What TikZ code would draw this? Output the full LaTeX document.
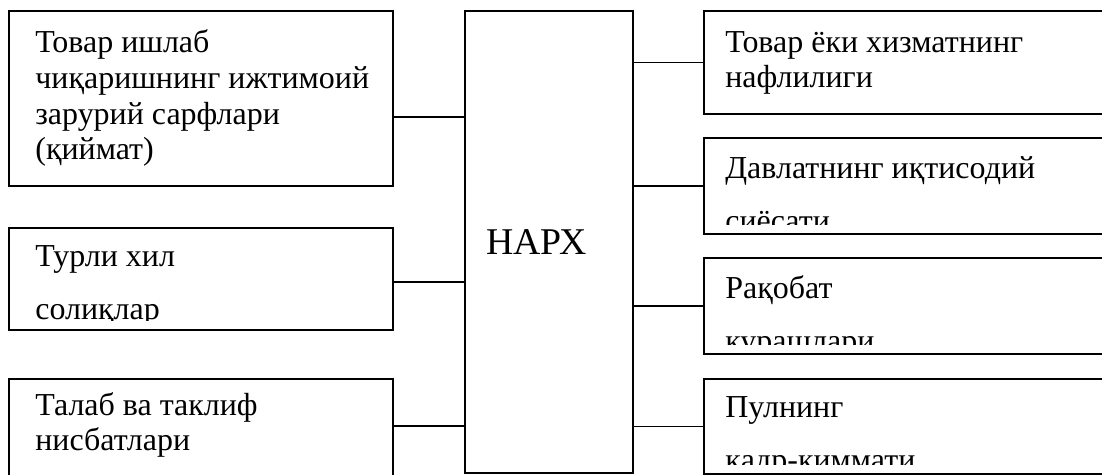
\documentclass[tikz,border=0pt]{standalone}
\usepackage{fontspec}
\setmainfont{Liberation Serif}
\usetikzlibrary{positioning, calc}

\tikzset{
  factbox/.style={draw, line width=1pt, rectangle, inner sep=0pt},
  facttext/.style={anchor=base west, inner sep=0pt, align=left,
    font=\fontsize{18.2}{20.4}\selectfont},
  widetext/.style={facttext, font=\fontsize{18.2}{30.6}\selectfont},
  link/.style={line width=1pt}
}

\begin{document}
\begin{tikzpicture}[x=0.02cm, y=-0.02cm]
  \useasboundingbox (0,0) rectangle (1102,475);
  \clip (0,0) rectangle (1102,475);

  % centre
  \node[factbox, minimum width=3.36cm, minimum height=9.24cm] (narx) at (549,242) {};
  \node[anchor=base west, inner sep=0pt, font=\fontsize{21.5}{25}\selectfont] (narxlabel) at (486,255) {НАРХ};

  % left column
  \node[factbox, minimum width=7.68cm, minimum height=3.5cm]  (cost)   at (201,98.5) {};
  \node[factbox, minimum width=7.68cm, minimum height=2.04cm] (tax)    at (201,279) {};
  \node[factbox, minimum width=7.68cm, minimum height=2.42cm] (demand) at (201,439.5) {};

  % right column
  \node[factbox, minimum width=8.32cm, minimum height=2.06cm] (utility) at (912,62.5) {};
  \node[factbox, minimum width=8.32cm, minimum height=1.92cm] (policy)  at (912,186) {};
  \node[factbox, minimum width=8.32cm, minimum height=1.92cm] (rivalry) at (912,306) {};
  \node[factbox, minimum width=8.32cm, minimum height=1.90cm] (money)   at (912,426.5) {};

  % texts (placed by the last line), cut off at the box bottom
  \begin{scope}
    \clip (cost.north west) rectangle ([yshift=0.2cm]cost.south east);
    \node[facttext] (costtext) at (35,160) {Товар ишлаб\\чиқаришнинг ижтимоий\\зарурий сарфлари\\(қиймат)};
  \end{scope}
  \begin{scope}
    \clip (tax.north west) rectangle ([yshift=0.2cm]tax.south east);
    \node[widetext] (taxtext) at (35,320) {Турли хил\\солиқлар};
  \end{scope}
  \begin{scope}
    \clip (demand.north west) rectangle ([yshift=0.2cm]demand.south east);
    \node[facttext] (demandtext) at (35,451) {Талаб ва таклиф\\нисбатлари};
  \end{scope}
  \begin{scope}
    \clip (utility.north west) rectangle ([yshift=0.2cm]utility.south east);
    \node[facttext] (utilitytext) at (725,88) {Товар ёки хизматнинг\\нафлилиги};
  \end{scope}
  \begin{scope}
    \clip (policy.north west) rectangle ([yshift=0.2cm]policy.south east);
    \node[widetext] (policytext) at (725,232) {Давлатнинг иқтисодий\\сиёсати};
  \end{scope}
  \begin{scope}
    \clip (rivalry.north west) rectangle ([yshift=0.2cm]rivalry.south east);
    \node[widetext] (rivalrytext) at (725,352) {Рақобат\\курашлари};
  \end{scope}
  \begin{scope}
    \clip (money.north west) rectangle ([yshift=0.2cm]money.south east);
    \node[widetext] (moneytext) at (725,471) {Пулнинг\\қадр-қиммати};
  \end{scope}

  % connectors
  \draw[link] ([yshift=-0.37cm]cost.east) coordinate (c1) -- (c1 -| narx.west);
  \draw[link] ([yshift=-0.06cm]tax.east) coordinate (c2) -- (c2 -| narx.west);
  \draw[link] ([yshift=0.27cm]demand.east) coordinate (c3) -- (c3 -| narx.west);
  \draw[link] (narx.east |- utility.west) -- (utility.west);
  \draw[link] (narx.east |- policy.west) -- (policy.west);
  \draw[link] (narx.east |- rivalry.west) -- (rivalry.west);
  \draw[link] (narx.east |- money.west) -- (money.west);
\end{tikzpicture}
\end{document}
